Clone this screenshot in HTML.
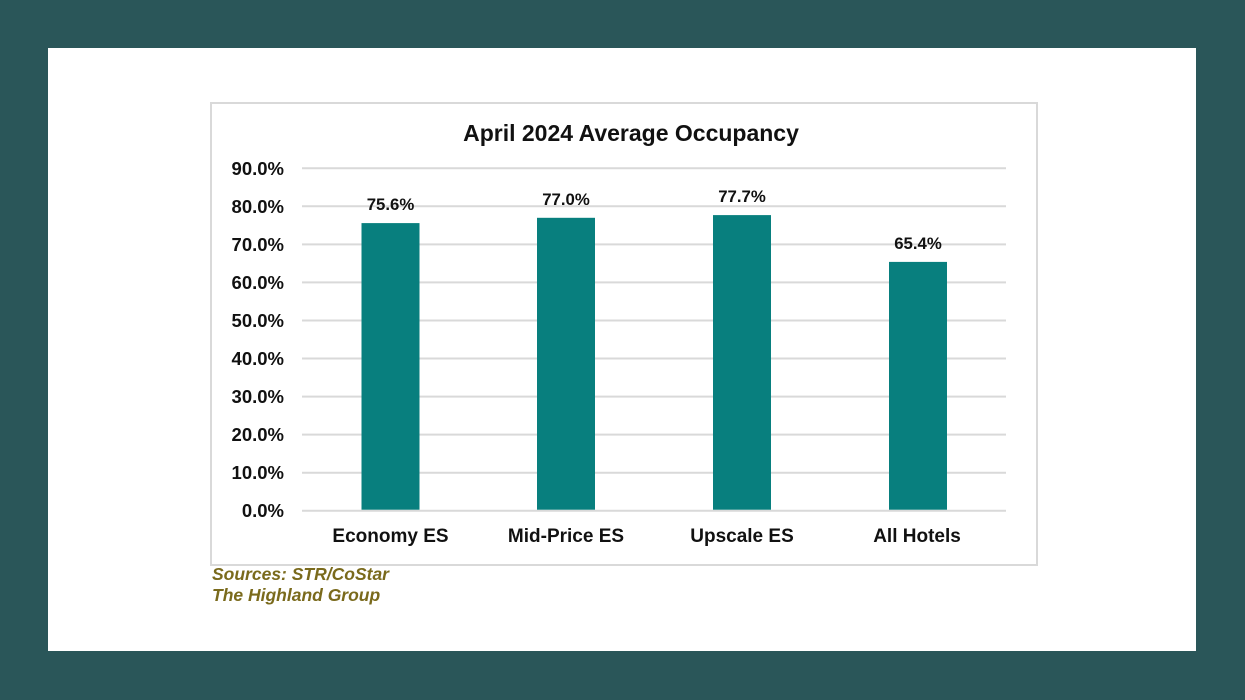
<!DOCTYPE html>
<html>
<head>
<meta charset="utf-8">
<style>
html,body{margin:0;padding:0;}
body{width:1245px;height:700px;background:#2a5659;overflow:hidden;}
svg{display:block;}
text{font-family:"Liberation Sans",Arial,sans-serif;font-weight:bold;}
</style>
</head>
<body>
<svg width="1245" height="700" viewBox="0 0 1245 700" xmlns="http://www.w3.org/2000/svg">
  <rect x="0" y="0" width="1245" height="700" fill="#2a5659"/>
  <rect x="48" y="48" width="1148" height="603" fill="#ffffff"/>
  <!-- chart border -->
  <rect x="211" y="103" width="826" height="462" fill="#ffffff" stroke="#d9d9d9" stroke-width="2"/>
  <!-- title -->
  <text x="631" y="141" font-size="23" text-anchor="middle" fill="#111">April 2024 Average Occupancy</text>
  <!-- gridlines -->
  <g stroke="#d9d9d9" stroke-width="2">
    <line x1="302" x2="1006" y1="168.3" y2="168.3"/>
    <line x1="302" x2="1006" y1="206.3" y2="206.3"/>
    <line x1="302" x2="1006" y1="244.4" y2="244.4"/>
    <line x1="302" x2="1006" y1="282.4" y2="282.4"/>
    <line x1="302" x2="1006" y1="320.5" y2="320.5"/>
    <line x1="302" x2="1006" y1="358.5" y2="358.5"/>
    <line x1="302" x2="1006" y1="396.6" y2="396.6"/>
    <line x1="302" x2="1006" y1="434.6" y2="434.6"/>
    <line x1="302" x2="1006" y1="472.7" y2="472.7"/>
    <line x1="302" x2="1006" y1="510.7" y2="510.7"/>
  </g>
  <!-- y tick labels -->
  <g font-size="18.5" text-anchor="end" fill="#111">
    <text x="284" y="175">90.0%</text>
    <text x="284" y="213">80.0%</text>
    <text x="284" y="251">70.0%</text>
    <text x="284" y="289">60.0%</text>
    <text x="284" y="327">50.0%</text>
    <text x="284" y="365">40.0%</text>
    <text x="284" y="403">30.0%</text>
    <text x="284" y="441">20.0%</text>
    <text x="284" y="479">10.0%</text>
    <text x="284" y="517">0.0%</text>
  </g>
  <!-- bars -->
  <g fill="#087f7e">
    <rect x="361.5" y="223.1" width="58" height="286.6"/>
    <rect x="537" y="217.8" width="58" height="291.9"/>
    <rect x="713" y="215.1" width="58" height="294.6"/>
    <rect x="889" y="261.9" width="58" height="247.8"/>
  </g>
  <!-- data labels -->
  <g font-size="16.8" text-anchor="middle" fill="#111">
    <text x="390.5" y="210">75.6%</text>
    <text x="566" y="205">77.0%</text>
    <text x="742" y="202">77.7%</text>
    <text x="918" y="249">65.4%</text>
  </g>
  <!-- category labels -->
  <g font-size="19" text-anchor="middle" fill="#111">
    <text x="390.5" y="542">Economy ES</text>
    <text x="566" y="542">Mid-Price ES</text>
    <text x="742" y="542">Upscale ES</text>
    <text x="917" y="542">All Hotels</text>
  </g>
  <!-- sources -->
  <g font-size="17.5" font-style="italic" fill="#7a6a1c">
    <text x="212" y="580">Sources: STR/CoStar</text>
    <text x="212" y="601">The Highland Group</text>
  </g>
</svg>
</body>
</html>
